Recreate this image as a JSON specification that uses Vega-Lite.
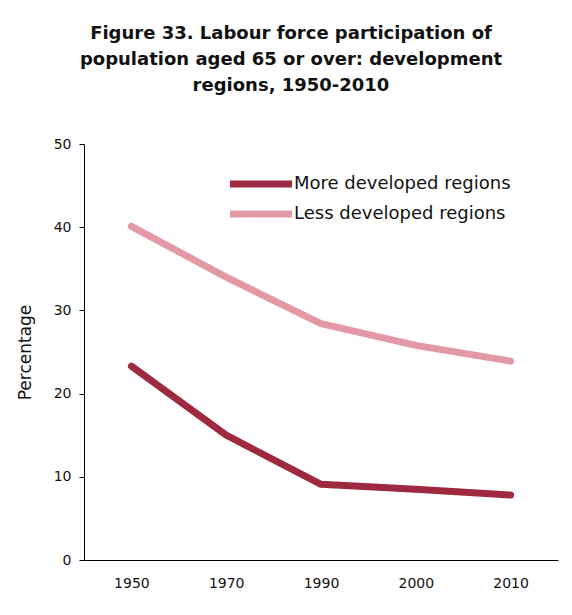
{
  "$schema": "https://vega.github.io/schema/vega-lite/v6.json",
  "autosize": "none",
  "width": 474,
  "height": 416,
  "padding": {"left": 84, "top": 144, "right": 14, "bottom": 55},
  "background": "white",
  "title": {
    "text": ["Figure 33.  Labour force participation of", "population aged 65 or over: development", "regions, 1950-2010"],
    "font": "DejaVu Sans",
    "fontSize": 18,
    "fontWeight": "bold",
    "color": "#111111",
    "lineHeight": 26,
    "anchor": "middle",
    "dx": -30,
    "offset": 42
  },
  "data": {
    "values": [
      {"year": "1950", "region": "More developed regions", "value": 23.3},
      {"year": "1970", "region": "More developed regions", "value": 15.0},
      {"year": "1990", "region": "More developed regions", "value": 9.1},
      {"year": "2000", "region": "More developed regions", "value": 8.5},
      {"year": "2010", "region": "More developed regions", "value": 7.8},
      {"year": "1950", "region": "Less developed regions", "value": 40.1},
      {"year": "1970", "region": "Less developed regions", "value": 34.0},
      {"year": "1990", "region": "Less developed regions", "value": 28.4},
      {"year": "2000", "region": "Less developed regions", "value": 25.8},
      {"year": "2010", "region": "Less developed regions", "value": 23.9}
    ]
  },
  "mark": {"type": "line", "strokeWidth": 7, "strokeCap": "round", "strokeJoin": "round"},
  "encoding": {
    "x": {
      "field": "year", "type": "ordinal",
      "scale": {"type": "point", "padding": 0.5},
      "axis": {"title": null, "labelAngle": 0, "ticks": false, "domainColor": "#000", "labelFont": "DejaVu Sans", "labelFontSize": 14, "labelColor": "#111", "labelPadding": 16, "grid": false}
    },
    "y": {
      "field": "value", "type": "quantitative",
      "scale": {"domain": [0, 50]},
      "axis": {"title": "Percentage", "values": [0, 10, 20, 30, 40, 50], "grid": false, "domainColor": "#000", "tickColor": "#000", "tickSize": 5, "labelPadding": 8, "labelFont": "DejaVu Sans", "labelFontSize": 14, "labelColor": "#111", "titleFont": "DejaVu Sans", "titleFontSize": 17, "titleFontWeight": "normal", "titleColor": "#111", "titlePadding": 19}
    },
    "color": {
      "field": "region", "type": "nominal",
      "scale": {"domain": ["More developed regions", "Less developed regions"], "range": ["#9E2A40", "#E399A5"]},
      "legend": {"title": null, "orient": "none", "legendX": 163, "legendY": 26, "symbolType": "M-3,0H3", "symbolSize": 427, "symbolStrokeWidth": 7, "labelFont": "DejaVu Sans", "labelFontSize": 18, "labelColor": "#111", "labelOffset": 19, "labelLimit": 400, "rowPadding": 2}
    }
  },
  "config": {"view": {"stroke": null}}
}
